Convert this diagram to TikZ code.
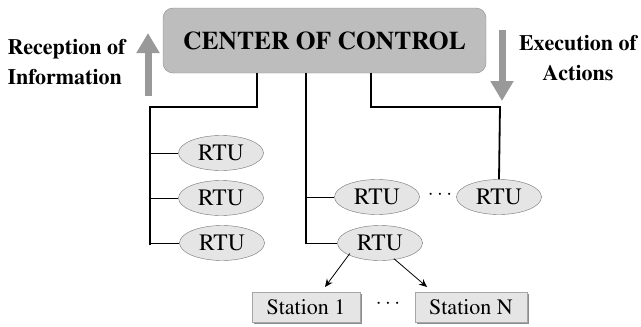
\documentclass[tikz,border=0pt]{standalone}
\usepackage[T1]{fontenc}
\usepackage{times}
\usepackage{tikz}
\usetikzlibrary{arrows.meta, shapes.geometric, shadows}

\begin{document}
\begin{tikzpicture}[x=1pt, y=-1pt,
    center/.style={draw=black!45, rectangle, rounded corners=10pt, fill=black!26, minimum height=65pt, minimum width=323pt, font=\fontsize{25.5}{30}\selectfont\bfseries},
    rtu/.style={draw=black!55, ellipse, fill=black!10, minimum height=35pt, minimum width=85pt, inner sep=0pt, font=\fontsize{23.5}{24}\selectfont},
    station/.style={draw=black!35, rectangle, fill=black!10, minimum height=30pt, inner sep=0pt, font=\fontsize{22}{24}\selectfont, drop shadow={shadow xshift=1.5pt, shadow yshift=-1.5pt, fill=black!45, opacity=1}},
    flow/.style={line width=7pt, black!40, -{Triangle[width=22pt, length=20pt]}},
    side/.style={align=center, font=\fontsize{22}{30}\selectfont\bfseries},
    trunk/.style={line width=1.8pt},
    tick/.style={line width=0.9pt},
    arrow/.style={-{Stealth[length=8pt, width=7pt]}, line width=0.8pt},
    dots/.style={font=\fontsize{21}{24}\selectfont}
]
\useasboundingbox (0,0) rectangle (641,327);

\node[center] (coc) at (324.5, 40.5) {CENTER OF CONTROL};

\node[side, align=left, anchor=west] (recv) at (4, 62) {Reception of\\Information};
\node[side] (exec) at (578, 58) {Execution of\\Actions};

\coordinate (upfoot) at (148, 96);
\coordinate (uptip) at (148, 33);
\coordinate (downfoot) at (502, 30);
\coordinate (downtip) at (502, 101);
\draw[flow] (upfoot) -- (uptip);
\draw[flow] (downfoot) -- (downtip);

\node[rtu] (rtuA) at (221, 153) {RTU};
\node[rtu] (rtuB) at (221, 198) {RTU};
\node[rtu] (rtuC) at (222, 243) {RTU};
\node[rtu] (rtuD) at (377, 197) {RTU};
\node[rtu] (rtuE) at (499, 197) {RTU};
\node[rtu] (rtuF) at (380, 243) {RTU};

\node[dots] (dotsR) at (440, 195) {$\cdots$};

\node[station, minimum width=108pt] (st1) at (306, 307) {Station 1};
\node[station, minimum width=112pt] (stN) at (471, 307) {Station N};
\node[dots] (dotsS) at (388, 304) {$\cdots$};

\coordinate (leftdrop) at (257, 107);
\coordinate (leftcorner) at (150, 107);
\coordinate (leftend) at (150, 245);
\coordinate (middrop) at (306, 73);
\coordinate (midend) at (306, 244);
\coordinate (rightcorner) at (500, 107);

\draw[trunk] (leftdrop |- coc.south) -- (leftdrop) -- (leftcorner) -- (leftend);
\draw[tick] (leftcorner |- rtuA) -- (rtuA.west);
\draw[tick] (leftcorner |- rtuB) -- (rtuB.west);
\draw[tick] (leftcorner |- rtuC) -- (rtuC.west);

\draw[trunk] (middrop) -- (midend);
\draw[tick] (middrop |- rtuD) -- (rtuD.west);
\draw[tick] (middrop |- rtuF) -- (rtuF.west);

\draw[trunk] (371, 73) -- (371, 107) -- (rightcorner) -- (rtuE.north);

\draw[arrow] (rtuF.south west) ++(0,-2) -- (325, 287);
\draw[arrow] (rtuF.south) ++(14,-2) -- (427, 287);
\end{tikzpicture}
\end{document}
